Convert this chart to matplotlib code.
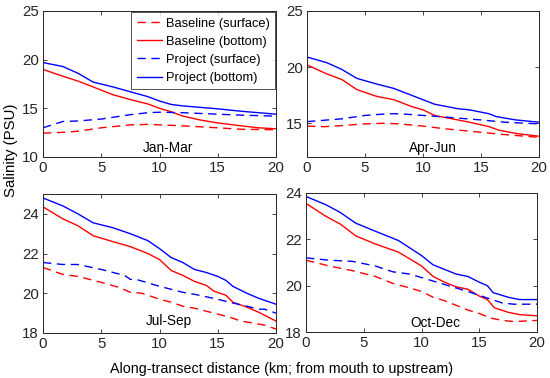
import matplotlib
matplotlib.use("Agg")
import matplotlib.pyplot as plt

plt.rcParams['font.family'] = ['Liberation Sans', 'DejaVu Sans']

# ---- data (x in km, salinity in PSU) ----
# Jan-Mar
jm_bb_x = [0, 1.7, 3, 4.3, 6, 7.5, 9, 10, 11, 12, 13.5, 15, 17, 18.5, 20]
jm_bb_y = [19.0, 18.3, 17.8, 17.2, 16.4, 15.9, 15.45, 15.0, 14.65, 14.2, 13.8, 13.5, 13.2, 13.0, 12.9]
jm_pb_x = [0, 1.7, 3, 4.3, 6, 7.5, 9, 10, 11, 12, 13.5, 15, 17, 18.5, 20]
jm_pb_y = [19.7, 19.3, 18.6, 17.7, 17.2, 16.7, 16.2, 15.75, 15.4, 15.25, 15.1, 14.95, 14.7, 14.55, 14.4]
jm_ps_x = [0, 1.7, 3, 5, 7.5, 9, 10, 12, 15, 17, 20]
jm_ps_y = [13.0, 13.65, 13.7, 13.9, 14.35, 14.55, 14.6, 14.55, 14.4, 14.3, 14.2]
jm_bs_x = [0, 2, 3, 5, 7.5, 9, 10, 12, 15, 17, 20]
jm_bs_y = [12.45, 12.55, 12.65, 13.0, 13.3, 13.35, 13.3, 13.2, 13.0, 12.85, 12.8]

# Apr-Jun
aj_pb_x = [0, 1.7, 3, 4.3, 6, 7.5, 9, 10, 11, 13, 14, 15.7, 16.3, 18, 20]
aj_pb_y = [20.9, 20.4, 19.8, 19.0, 18.5, 18.1, 17.5, 17.1, 16.7, 16.3, 16.2, 15.85, 15.6, 15.3, 15.1]
aj_bb_x = [0, 1.7, 3, 4.3, 6, 7.5, 9, 10, 11, 13, 14, 15.7, 16.5, 18, 20]
aj_bb_y = [20.2, 19.4, 18.9, 18.0, 17.4, 17.1, 16.5, 16.2, 15.7, 15.3, 15.1, 14.7, 14.4, 14.1, 13.85]
aj_ps_x = [0, 3, 5, 7, 8, 10, 12, 15, 17, 20]
aj_ps_y = [15.15, 15.4, 15.7, 15.85, 15.85, 15.7, 15.55, 15.3, 15.1, 14.95]
aj_bs_x = [0, 1.5, 3, 5, 6.5, 8, 10, 12, 15, 17, 20]
aj_bs_y = [14.75, 14.7, 14.8, 14.95, 15.0, 14.95, 14.75, 14.5, 14.2, 14.0, 13.75]

# Jul-Sep
js_pb_x = [0, 1.7, 3, 4.3, 6, 7.5, 9, 10, 11, 12, 13, 14, 15, 15.7, 16.3, 17.5, 18.5, 20]
js_pb_y = [24.8, 24.4, 24.0, 23.55, 23.3, 23.0, 22.65, 22.25, 21.8, 21.55, 21.2, 21.05, 20.85, 20.65, 20.35, 20.0, 19.75, 19.45]
js_bb_x = [0, 1.7, 3, 4.3, 6, 7.5, 9, 10, 11, 12, 13, 14, 14.7, 15.7, 16.3, 17.5, 18.5, 20]
js_bb_y = [24.35, 23.75, 23.4, 22.9, 22.6, 22.35, 22.0, 21.7, 21.15, 20.9, 20.6, 20.4, 20.1, 19.9, 19.55, 19.3, 19.05, 18.6]
js_ps_x = [0, 1.7, 3, 5, 7, 7.5, 8, 10, 12, 13, 15, 16, 17.5, 18.5, 19, 20]
js_ps_y = [21.55, 21.45, 21.45, 21.2, 20.9, 20.7, 20.7, 20.35, 20.05, 19.95, 19.7, 19.55, 19.35, 19.2, 19.2, 19.0]
js_bs_x = [0, 1.7, 3, 5, 6.5, 7.5, 8.5, 10, 11, 12, 13, 14, 15, 16, 17, 18.5, 19, 20]
js_bs_y = [21.3, 20.95, 20.85, 20.55, 20.3, 20.05, 20.0, 19.7, 19.55, 19.35, 19.25, 19.1, 18.95, 18.8, 18.6, 18.45, 18.4, 18.2]

# Oct-Dec
od_pb_x = [0, 1.7, 3, 4.3, 6, 8, 10, 11, 12, 13, 14, 15, 15.7, 16.2, 17.5, 18.5, 20]
od_pb_y = [23.85, 23.5, 23.15, 22.7, 22.35, 21.95, 21.3, 20.9, 20.7, 20.5, 20.4, 20.15, 20.0, 19.7, 19.5, 19.4, 19.4]
od_bb_x = [0, 1.7, 3, 4.3, 6, 8, 10, 11, 12, 13, 14, 15, 15.7, 16.3, 17.5, 18.5, 20]
od_bb_y = [23.55, 23.0, 22.65, 22.15, 21.8, 21.45, 20.85, 20.4, 20.15, 19.95, 19.85, 19.55, 19.4, 19.05, 18.85, 18.75, 18.7]
od_ps_x = [0, 2, 4, 6, 7.5, 9, 10, 12, 14, 15.5, 17, 18, 20]
od_ps_y = [21.2, 21.1, 21.05, 20.85, 20.6, 20.5, 20.35, 20.05, 19.75, 19.5, 19.25, 19.2, 19.2]
od_bs_x = [0, 2, 4, 6, 7.5, 9, 10, 11, 12, 13, 14, 15, 16, 17, 18, 20]
od_bs_y = [21.1, 20.85, 20.65, 20.4, 20.1, 19.9, 19.75, 19.5, 19.35, 19.15, 18.95, 18.8, 18.6, 18.5, 18.45, 18.5]

panels = [
    dict(name="Jan-Mar", ylim=(10, 25), yticks=[10, 15, 20, 25],
         bs=(jm_bs_x, jm_bs_y), bb=(jm_bb_x, jm_bb_y), ps=(jm_ps_x, jm_ps_y), pb=(jm_pb_x, jm_pb_y)),
    dict(name="Apr-Jun", ylim=(12, 25), yticks=[15, 20, 25],
         bs=(aj_bs_x, aj_bs_y), bb=(aj_bb_x, aj_bb_y), ps=(aj_ps_x, aj_ps_y), pb=(aj_pb_x, aj_pb_y)),
    dict(name="Jul-Sep", ylim=(18, 25), yticks=[18, 20, 22, 24],
         bs=(js_bs_x, js_bs_y), bb=(js_bb_x, js_bb_y), ps=(js_ps_x, js_ps_y), pb=(js_pb_x, js_pb_y)),
    dict(name="Oct-Dec", ylim=(18, 24), yticks=[18, 20, 22, 24],
         bs=(od_bs_x, od_bs_y), bb=(od_bb_x, od_bb_y), ps=(od_ps_x, od_ps_y), pb=(od_pb_x, od_pb_y)),
]
xticks = [0, 5, 10, 15, 20]

W, H = 550, 378
fig = plt.figure(figsize=(W / 100, H / 100), dpi=100)

rects_px = [(43, 11, 276, 157), (307, 11, 539, 157), (43, 194, 276, 333), (306, 193, 537, 332)]
label_pos = [(10.7, 0.062), (10.85, 0.062), (10.8, 0.086), (11.2, 0.065)]
dash = (0, (6, 4))
axcol = '#262626'
for p, (l, t, r, b), (lx, ly) in zip(panels, rects_px, label_pos):
    ax = fig.add_axes([l / W, (H - b) / H, (r - l) / W, (b - t) / H])
    ax.plot(*p["bs"], color='#ff0000', lw=1, ls=dash, label='Baseline (surface)')
    ax.plot(*p["bb"], color='#ff0000', lw=1, label='Baseline (bottom)')
    ax.plot(*p["ps"], color='#0000ff', lw=1, ls=dash, label='Project (surface)')
    ax.plot(*p["pb"], color='#0000ff', lw=1, label='Project (bottom)')
    ax.set_xlim(0, 20)
    ax.set_ylim(*p["ylim"])
    ax.set_xticks(xticks)
    ax.set_yticks(p["yticks"])
    ax.tick_params(direction='in', length=3, width=0.6, labelsize=10.8, colors=axcol,
                   top=True, right=True, pad=3)
    for s in ax.spines.values():
        s.set_linewidth(0.7)
        s.set_color(axcol)
    ax.text(lx, ly, p["name"], transform=ax.get_xaxis_transform(),
            ha='center', va='center', fontsize=9.8, color='black')
    if p["name"] == "Jan-Mar":
        leg = ax.legend(loc='upper right', fontsize=9.3, frameon=True, fancybox=False,
                        edgecolor='#262626', borderaxespad=0.1, handlelength=2.0,
                        handletextpad=0.25, labelspacing=0.48, borderpad=0.4)
        leg.get_frame().set_linewidth(0.7)

fig.text(11 / W, 1 - 150 / H, 'Salinity (PSU)', rotation=90, ha='center', va='center', fontsize=10.8)
fig.text(282 / W, 1 - 369 / H, 'Along-transect distance (km; from mouth to upstream)',
         ha='center', va='center', fontsize=10.3)

fig.savefig('out.png', dpi=100)
